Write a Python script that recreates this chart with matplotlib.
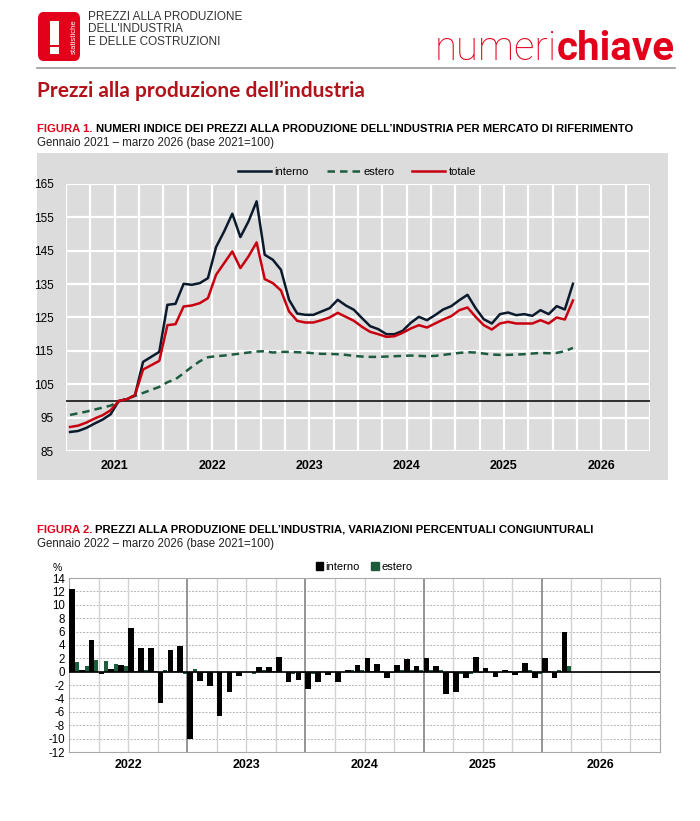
import matplotlib
matplotlib.use("Agg")
import matplotlib.pyplot as plt
from matplotlib.patches import Rectangle, FancyBboxPatch, Patch
from matplotlib.lines import Line2D

W, H = 700, 821
plt.rcParams['font.family'] = ['Liberation Sans', 'DejaVu Sans']
plt.rcParams['axes.unicode_minus'] = False

# ---- data: figure 1, monthly index Jan 2021 - Mar 2026 (base 2021=100)
interno = [90.7, 91.0, 91.9, 93.2, 94.4, 96.0, 100.0, 100.5, 101.7, 111.7, 113.2, 114.7,
           128.8, 129.1, 135.1, 134.8, 135.3, 136.8, 146.1, 150.8, 156.1, 149.1, 153.8, 159.8,
           143.8, 142.3, 139.3, 130.3, 126.2, 125.8, 125.8, 126.8, 127.8, 130.3, 128.6, 127.3,
           124.8, 122.4, 121.5, 120.0, 120.0, 121.0, 123.4, 125.2, 124.2, 125.7, 127.4, 128.4,
           130.2, 131.8, 127.8, 124.5, 123.2, 126.0, 126.5, 125.7, 126.0, 125.5, 127.2, 126.0,
           128.4, 127.4, 135.1]
estero = [95.8, 96.3, 96.8, 97.4, 98.0, 98.6, 99.8, 100.7, 101.5, 102.4, 103.3, 104.2,
          105.6, 106.5, 108.3, 110.2, 111.9, 113.1, 113.4, 113.6, 113.9, 114.2, 114.5, 114.8,
          114.9, 114.5, 114.7, 114.7, 114.6, 114.5, 114.3, 114.1, 114.1, 114.0, 113.8, 113.5,
          113.3, 113.2, 113.2, 113.3, 113.4, 113.5, 113.6, 113.5, 113.4, 113.5, 113.8, 114.1,
          114.4, 114.6, 114.5, 114.2, 113.9, 113.8, 113.8, 113.9, 114.0, 114.2, 114.4, 114.3,
          114.4, 114.9, 115.9]
totale = [92.2, 92.6, 93.5, 94.7, 95.7, 97.2, 100.0, 100.5, 101.7, 109.4, 110.7, 112.0,
          122.7, 123.0, 128.3, 128.6, 129.3, 130.8, 137.8, 141.3, 144.8, 139.8, 143.3, 147.5,
          136.5, 135.3, 133.1, 126.8, 124.0, 123.5, 123.5, 124.2, 125.0, 126.4, 125.2, 124.0,
          122.2, 120.7, 120.0, 119.2, 119.4, 120.4, 121.7, 122.7, 122.0, 123.2, 124.4, 125.4,
          127.2, 128.0, 125.2, 122.7, 121.4, 123.2, 123.7, 123.2, 123.2, 123.2, 124.2, 123.2,
          125.0, 124.4, 130.1]
years1 = ['2021', '2022', '2023', '2024', '2025', '2026']

# ---- data: figure 2, monthly % change Jan 2022 - Mar 2026
var_interno = [12.3, 0.2, 4.7, -0.3, 0.4, 1.0, 6.6, 3.5, 3.5, -4.7, 3.3, 3.8,
               -10.1, -1.4, -2.1, -6.6, -3.1, -0.6, -0.1, 0.7, 0.7, 2.2, -1.6, -1.3,
               -2.6, -1.6, -0.5, -1.5, 0.2, 1.0, 2.0, 1.2, -0.9, 1.0, 1.9, 0.8,
               2.0, 0.8, -3.4, -3.1, -0.9, 2.2, 0.6, -0.8, 0.2, -0.5, 1.3, -1.0,
               2.0, -0.9, 5.9]
var_estero = [1.5, 0.8, 1.7, 1.6, 1.1, 0.8, 0.1, 0.3, 0.1, 0.3, 0.1, -0.4,
              0.4, -0.2, -0.1, -0.1, -0.1, -0.1, -0.3, 0.2, 0.1, 0.0, -0.3, -0.2,
              -0.3, -0.1, 0.0, -0.1, 0.3, 0.2, 0.1, 0.1, -0.2, 0.3, 0.3, 0.2,
              0.3, 0.3, -0.2, -0.4, -0.3, -0.2, 0.0, 0.0, 0.1, 0.1, 0.2, -0.3,
              0.1, 0.2, 0.8]
years2 = ['2022', '2023', '2024', '2025', '2026']


def rect(x0, y0, x1, y1):
    # pixel box (top-left origin) -> figure fraction
    return [x0 / W, 1 - y1 / H, (x1 - x0) / W, (y1 - y0) / H]


def fx(x):
    return x / W


def fy(y):
    return 1 - y / H


fig = plt.figure(figsize=(7, 8.21), dpi=100)
fig.patch.set_facecolor('white')
renderer = fig.canvas.get_renderer()

# ---- header
red = '#e2001a'
fig.patches.append(FancyBboxPatch((fx(38), fy(61)), fx(42), 49 / H,
                                  boxstyle='round,pad=0,rounding_size=0.008',
                                  transform=fig.transFigure, fc=red, ec='none'))
fig.patches.append(Rectangle((fx(50), fy(45)), fx(9), 24 / H, transform=fig.transFigure,
                             fc='white', ec='none'))
fig.patches.append(Rectangle((fx(50), fy(54)), fx(9), 7 / H, transform=fig.transFigure,
                             fc='white', ec='none'))
fig.text(fx(74), fy(37), 'statistiche', rotation=90, color='white', fontsize=5.5,
         ha='center', va='center')
for i, line in enumerate(['PREZZI ALLA PRODUZIONE', "DELL'INDUSTRIA", 'E DELLE COSTRUZIONI']):
    fig.text(fx(88), fy(17 + 12.5 * i), line, fontsize=8.5, color='#333333',
             va='center', ha='left')

t_chiave = fig.text(fx(675), fy(60), 'chiave', fontsize=29, color=red, fontweight='bold',
                    ha='right', va='baseline', family=['Roboto', 'DejaVu Sans'])
bb = t_chiave.get_window_extent(renderer)
fig.text(bb.x0 / W, fy(60), 'numeri', fontsize=29, color=red, fontweight='light',
         ha='right', va='baseline', family=['Roboto', 'DejaVu Sans'])

fig.add_artist(Line2D([fx(37), fx(675)], [fy(68), fy(68)], color='#9a9a9a', lw=1.2))
fig.text(fx(37), fy(91), "Prezzi alla produzione dell\u2019industria", fontsize=15,
         fontweight='bold', color='#b3121b', family=['Lato', 'DejaVu Sans'],
         ha='left', va='center')


def fig_title(y, num, rest, sub, x_end):
    # fit the bold heading to the width it has in the reference
    size = 9.0
    t1 = fig.text(fx(37), fy(y), num, color=red, fontweight='bold', fontsize=size,
                  ha='left', va='center')
    t2 = fig.text(0, fy(y), rest, color='black', fontweight='bold', fontsize=size,
                  ha='left', va='center')
    w = (t1.get_window_extent(renderer).width + 3 +
         t2.get_window_extent(renderer).width)
    size = size * (x_end - 37) / w
    t1.set_fontsize(size)
    t2.set_fontsize(size)
    b = t1.get_window_extent(renderer)
    t2.set_x((b.x1 + 3) / W)
    fig.text(fx(37), fy(y + 14), sub, color='#222222', fontsize=8.3, ha='left', va='center')


fig_title(129, 'FIGURA 1.',
          "NUMERI INDICE DEI PREZZI ALLA PRODUZIONE DELL\u2019INDUSTRIA PER MERCATO DI RIFERIMENTO",
          'Gennaio 2021 \u2013 marzo 2026 (base 2021=100)', 636)
fig_title(530, 'FIGURA 2.',
          "PREZZI ALLA PRODUZIONE DELL\u2019INDUSTRIA, VARIAZIONI PERCENTUALI CONGIUNTURALI",
          'Gennaio 2022 \u2013 marzo 2026 (base 2021=100)', 597)

# ---- figure 1
grey = '#dcdcdc'
fig.patches.append(Rectangle((fx(37), fy(480)), fx(631), 327 / H, transform=fig.transFigure,
                             fc=grey, ec='none', zorder=-1))
ax1 = fig.add_axes(rect(66, 184, 650, 451))
ax1.set_zorder(2)
ax1.set_facecolor(grey)
x = [i + 0.5 for i in range(len(interno))]
l1, = ax1.plot(x, interno, color='#0b1a2c', lw=1.8, label='interno', zorder=4)
l2, = ax1.plot(x, estero, color='#1d5c3e', lw=1.8, ls=(0, (3, 2)), label='estero', zorder=3)
l3, = ax1.plot(x, totale, color='#c8000f', lw=1.8, label='totale', zorder=5)
ax1.axhline(100, color='black', lw=1.1, zorder=2)
ax1.set_xlim(0, 72)
ax1.set_ylim(85, 165)
ax1.set_yticks(range(85, 166, 10))
ax1.set_xticks(range(0, 73, 3))
ax1.set_xticklabels([])
ax1.grid(True, color='white', lw=1.6)
ax1.set_axisbelow(True)
for s in ax1.spines.values():
    s.set_visible(False)
ax1.tick_params(length=0, labelsize=8.5, pad=9)
for k, yr in enumerate(years1):
    ax1.text(12 * k + 6, 80.6, yr, ha='center', va='center', fontsize=9, fontweight='bold')
leg1 = fig.legend(handles=[l1, l2, l3], loc='center', bbox_to_anchor=(fx(357), fy(172)),
                  ncol=3, frameon=False, fontsize=8, handlelength=3.0, columnspacing=1.6,
                  handletextpad=0.3)
leg1.set_zorder(3)

# ---- figure 2
ax2 = fig.add_axes(rect(69, 578, 660, 752))
months = list(range(len(var_interno)))
ax2.bar(months, var_interno, width=0.58, align='edge', color='black', zorder=3,
        label='interno')
ax2.bar([m + 0.58 for m in months], var_estero, width=0.4, align='edge', color='#1e5c3c',
        zorder=3, label='estero')
ax2.axhline(0, color='black', lw=1.2, zorder=4)
ax2.set_xlim(0, 60)
ax2.set_ylim(-12, 14)
ax2.set_yticks(range(-12, 15, 2))
ax2.set_xticks([])
for v in range(-12, 15, 2):
    ax2.axhline(v, color='#b5b5b5', lw=0.7, ls=(0, (2, 1.5)), zorder=1)
for q in range(3, 60, 3):
    if q % 12:
        ax2.axvline(q, color='#d2d2d2', lw=1.0, zorder=1)
    else:
        ax2.axvline(q, color='#8c8c8c', lw=1.3, zorder=2)
for s in ax2.spines.values():
    s.set_color('#a8a8a8')
ax2.tick_params(axis='y', length=0, labelsize=8.3, pad=3)
for k, yr in enumerate(years2):
    ax2.text(12 * k + 6, -12.0 - 13 / 6.67, yr, ha='center', va='center', fontsize=9,
             fontweight='bold')
fig.text(fx(57), fy(568), '%', fontsize=7.5, ha='center', va='center')
fig.legend(handles=[Patch(color='black', label='interno'),
                    Patch(color='#1e5c3c', label='estero')],
           loc='center', bbox_to_anchor=(fx(364), fy(567)), ncol=2, frameon=False,
           fontsize=8, handlelength=0.7, handleheight=0.7, handletextpad=0.2,
           columnspacing=1.0)

fig.savefig('out.png', dpi=100)
